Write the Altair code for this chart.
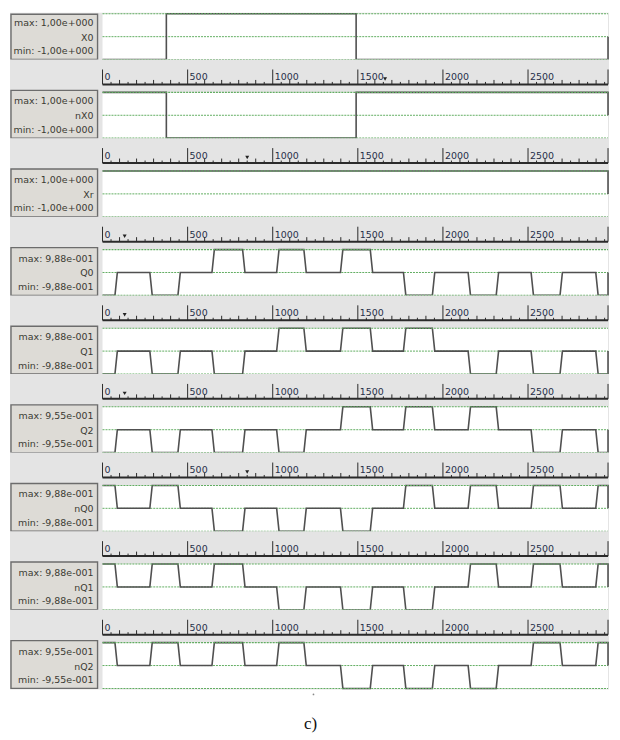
import altair as alt
import pandas as pd

# ---------------- values ----------------
T_END = 2970
NAMES = ["X0", "nX0", "Xr", "Q0", "Q1", "Q2", "nQ0", "nQ1", "nQ2"]
MAX_TXT = ["1,00e+000", "1,00e+000", "1,00e+000", "9,88e-001", "9,88e-001",
           "9,55e-001", "9,88e-001", "9,88e-001", "9,55e-001"]
AMPS = [1.0, 1.0, 1.0, 0.988, 0.988, 0.955, 0.988, 0.988, 0.955]

X_EDGES = [375, 1490]
X0_LEVELS = [-1, 1, -1]
NX0_LEVELS = [1, -1, 1]
XR_LEVELS = [1]

Q_EDGES = [80, 285, 450, 650, 830, 1030, 1190, 1405, 1580, 1775, 1945, 2155,
           2320, 2525, 2695, 2905]
Q0_LEVELS = [-1, 0, -1, 0, 1, 0, 1, 0, 1, 0, -1, 0, -1, 0, -1, 0, -1]
Q1_LEVELS = [-1, 0, -1, 0, -1, 0, 1, 0, 1, 0, 1, 0, -1, 0, -1, 0, -1]
Q2_LEVELS = [-1, 0, -1, 0, -1, 0, -1, 0, 1, 0, 1, 0, 1, 0, -1, 0, -1]
NQ0_LEVELS = [1, 0, 1, 0, -1, 0, -1, 0, -1, 0, 1, 0, 1, 0, 1, 0, 1]
NQ1_LEVELS = [1, 0, 1, 0, 1, 0, -1, 0, -1, 0, -1, 0, 1, 0, 1, 0, 1]
NQ2_LEVELS = [1, 0, 1, 0, 1, 0, 1, 0, -1, 0, -1, 0, -1, 0, 1, 0, 1]

SIGNALS = [(X_EDGES, X0_LEVELS), (X_EDGES, NX0_LEVELS), ([], XR_LEVELS),
           (Q_EDGES, Q0_LEVELS), (Q_EDGES, Q1_LEVELS), (Q_EDGES, Q2_LEVELS),
           (Q_EDGES, NQ0_LEVELS), (Q_EDGES, NQ1_LEVELS), (Q_EDGES, NQ2_LEVELS)]
RAMPS = [0, 0, 0, 14, 14, 14, 14, 14, 14]

RULER_LABELS = [0, 500, 1000, 1500, 2000, 2500]
RULER_MARKERS = [1660, 850, 130, 130, 130, 850, None, None]
CAPTION = "c)"

# ---------------- layout / style ----------------
W = 604
PANEL_H = 46
RULER_H = 33
CAP_H = 44
X_RANGE = [95, 603]
BG = "#e4e4e4"
BOX_FILL = "#dddbd6"
GREEN = "#62ad62"
SIG = "#505050"
FONT = "DejaVu Sans"

dummy = pd.DataFrame({"d": [0]})
xs = alt.Scale(domain=[0, T_END], range=X_RANGE, nice=False, zero=False)


def wave(edges, levels, amp, ramp):
    t, v = [0], [levels[0]]
    for e, a, b in zip(edges, levels[:-1], levels[1:]):
        t += [e - ramp / 2, e + ramp / 2]
        v += [a, b]
    t += [T_END, T_END]
    v += [levels[-1], 0]
    return pd.DataFrame({"t": t, "v": [x * amp for x in v], "i": list(range(len(t)))})


def panel(k):
    amp = AMPS[k]
    ys = alt.Scale(domain=[-amp, amp], range=[PANEL_H, 0], nice=False, zero=False)
    edges, levels = SIGNALS[k]
    sig = wave(edges, levels, amp, RAMPS[k])

    bg = alt.Chart(dummy).mark_rect(color=BG).encode(
        x=alt.value(2), x2=alt.value(W), y=alt.value(-1), y2=alt.value(PANEL_H + 1))
    white = alt.Chart(dummy).mark_rect(color="white").encode(
        x=alt.XDatum(0, type="quantitative", scale=xs, axis=None),
        x2=alt.X2Datum(T_END),
        y=alt.YDatum(amp, type="quantitative", scale=ys, axis=None),
        y2=alt.Y2Datum(-amp))
    mid = alt.Chart(pd.DataFrame({"lv": [0.0]})).mark_rule(
        color=GREEN, strokeDash=[2, 1], strokeWidth=1).encode(
        y=alt.Y("lv:Q", scale=ys, axis=None),
        x=alt.XDatum(0, type="quantitative", scale=xs, axis=None),
        x2=alt.X2Datum(T_END))
    line = alt.Chart(sig).mark_line(color=SIG, strokeWidth=1.6).encode(
        x=alt.X("t:Q", scale=xs, axis=None),
        y=alt.Y("v:Q", scale=ys, axis=None),
        order="i:Q")
    edges_rule = alt.Chart(pd.DataFrame({"lv": [amp, -amp]})).mark_rule(
        color=GREEN, strokeDash=[2, 1], strokeWidth=1.1).encode(
        y=alt.Y("lv:Q", scale=ys, axis=None),
        x=alt.XDatum(0, type="quantitative", scale=xs, axis=None),
        x2=alt.X2Datum(T_END))
    box = alt.Chart(dummy).mark_rect(fill=BOX_FILL, stroke="#6c6c6c", strokeWidth=1.4).encode(
        x=alt.value(3), x2=alt.value(90),
        y=alt.value(-2 if k > 0 else 0.5), y2=alt.value(PANEL_H))
    tstyle = dict(align="right", baseline="alphabetic", font=FONT, fontSize=9.5, color="#3a3a32")
    t1 = alt.Chart(dummy).mark_text(text="max: " + MAX_TXT[k], x=86, y=12, **tstyle)
    t2 = alt.Chart(dummy).mark_text(text=NAMES[k], x=86, y=27, **tstyle)
    t3 = alt.Chart(dummy).mark_text(text="min: -" + MAX_TXT[k], x=86, y=40.5, **tstyle)
    return alt.layer(bg, white, mid, line, edges_rule, box, t1, t2, t3).properties(
        width=W, height=PANEL_H)


def ruler(j):
    majors = RULER_LABELS + [T_END]
    mids = [t for t in range(100, T_END, 100) if t % 500 != 0]
    minors = [t for t in range(50, T_END, 100)]
    bg = alt.Chart(dummy).mark_rect(color=BG).encode(
        x=alt.value(2), x2=alt.value(W), y=alt.value(0), y2=alt.value(RULER_H))
    base = alt.Chart(dummy).mark_rule(color="#2a2a2a", strokeWidth=2).encode(
        x=alt.XDatum(0, type="quantitative", scale=xs, axis=None),
        x2=alt.X2Datum(T_END), y=alt.value(25))
    big = alt.Chart(pd.DataFrame({"t": majors})).mark_rule(color="#2a2a2a", strokeWidth=1).encode(
        x=alt.X("t:Q", scale=xs, axis=None), y=alt.value(10), y2=alt.value(25))
    med = alt.Chart(pd.DataFrame({"t": mids})).mark_rule(color="#2a2a2a", strokeWidth=1).encode(
        x=alt.X("t:Q", scale=xs, axis=None), y=alt.value(20.5), y2=alt.value(25))
    small = alt.Chart(pd.DataFrame({"t": minors})).mark_rule(color="#2a2a2a", strokeWidth=1).encode(
        x=alt.X("t:Q", scale=xs, axis=None), y=alt.value(22.5), y2=alt.value(25))
    labs = alt.Chart(pd.DataFrame({"t": RULER_LABELS, "s": [str(v) for v in RULER_LABELS]})).mark_text(
        align="left", baseline="alphabetic", dx=2, font=FONT, fontSize=9.5, color="#27304a").encode(
        x=alt.X("t:Q", scale=xs, axis=None), y=alt.value(21), text="s:N")
    layers = [bg, base, big, med, small, labs]
    if RULER_MARKERS[j] is not None:
        layers.append(alt.Chart(pd.DataFrame({"t": [RULER_MARKERS[j]]})).mark_point(
            shape="triangle-down", filled=True, size=16, color="#222222", opacity=1).encode(
            x=alt.X("t:Q", scale=xs, axis=None), y=alt.value(19.5)))
    return alt.layer(*layers).properties(width=W, height=RULER_H)


def caption():
    txt = alt.Chart(dummy).mark_text(
        text=CAPTION, x=304, y=41, align="center", baseline="alphabetic",
        font="Liberation Serif", fontSize=17, color="#111111")
    dot = alt.Chart(dummy).mark_point(shape="circle", filled=True, size=3, color="#555555").encode(
        x=alt.value(307), y=alt.value(6))
    return alt.layer(txt, dot).properties(width=W, height=CAP_H)


rows = []
for k in range(9):
    rows.append(panel(k))
    if k < 8:
        rows.append(ruler(k))
rows.append(caption())

chart = alt.VConcatChart(vconcat=rows, spacing=0, bounds="flush").properties(
    padding=0, background="white").configure_view(stroke=None)

chart.save("out.html", embed_options={"renderer": "svg", "actions": False})
